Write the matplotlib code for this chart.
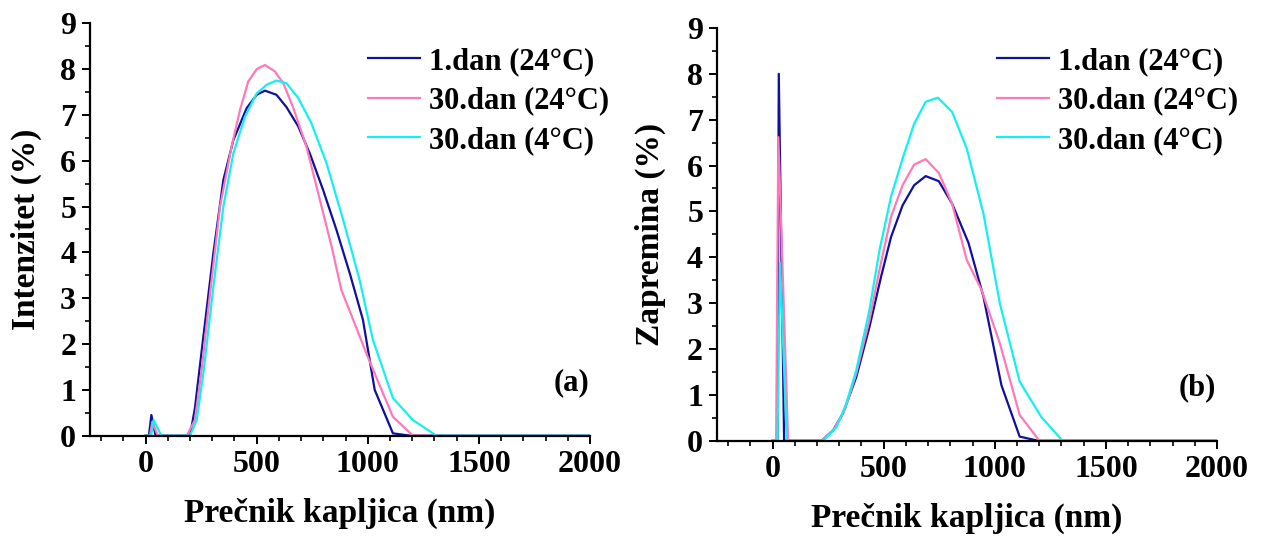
import numpy as np
from matplotlib import pyplot as plt
from matplotlib.ticker import MultipleLocator

plt.rcParams['font.family'] = ['Liberation Serif', 'DejaVu Serif']
plt.rcParams['font.weight'] = 'bold'

labels = ['1.dan (24°C)', '30.dan (24°C)', '30.dan (4°C)']
colors = ['#10109a', '#ff78b8', '#14f0f0']

# (a) intenzitet
int_x_1 = [0, 15, 26, 45, 200, 222, 260, 305, 350, 395, 455, 500, 537, 589, 634, 687, 739,
           799, 859, 919, 978, 1031, 1113, 1188, 2000]
int_y_1 = [0, 0, 0.45, 0, 0, 0.6, 2.16, 3.98, 5.58, 6.45, 7.15, 7.44, 7.53, 7.44, 7.17, 6.75,
           6.16, 5.36, 4.49, 3.54, 2.53, 1.0, 0.05, 0, 0]
int_x_2 = [0, 20, 30, 55, 185, 222, 252, 290, 335, 387, 425, 462, 500, 537, 582, 620, 665,
           724, 784, 837, 881, 934, 993, 1053, 1113, 1203, 2000]
int_y_2 = [0, 0, 0.3, 0, 0, 0.34, 1.43, 3.1, 5.0, 6.31, 7.11, 7.73, 8.0, 8.09, 7.95, 7.69,
           7.15, 6.31, 5.15, 4.13, 3.18, 2.53, 1.8, 1.1, 0.41, 0, 0]
int_x_3 = [0, 25, 36, 71, 200, 230, 260, 305, 350, 395, 447, 500, 545, 589, 634, 687, 746,
           814, 889, 963, 1023, 1113, 1203, 1308, 2000]
int_y_3 = [0, 0, 0.34, 0, 0, 0.34, 1.36, 3.25, 5.0, 6.16, 6.96, 7.47, 7.66, 7.75, 7.69, 7.37,
           6.82, 5.95, 4.71, 3.40, 2.09, 0.82, 0.34, 0, 0]

# (b) zapremina
vol_x_1 = [0, 22, 28, 52, 221, 273, 317, 377, 436, 488, 533, 585, 637, 689, 748, 808, 882,
           949, 1030, 1112, 1194, 2000]
vol_y_1 = [0, 0, 8.0, 0, 0, 0.23, 0.6, 1.39, 2.48, 3.57, 4.44, 5.13, 5.57, 5.77, 5.66, 5.17,
           4.31, 3.14, 1.21, 0.09, 0, 0]
vol_x_2 = [0, 16, 26, 70, 221, 273, 325, 377, 436, 481, 533, 585, 637, 689, 748, 808, 874,
           941, 1023, 1112, 1201, 2000]
vol_y_2 = [0, 0, 6.62, 0, 0, 0.23, 0.67, 1.47, 2.63, 3.72, 4.88, 5.57, 6.02, 6.14, 5.84,
           5.17, 3.94, 3.28, 2.12, 0.56, 0, 0]
vol_x_3 = [0, 22, 34, 64, 228, 288, 332, 377, 436, 481, 533, 585, 637, 689, 744, 808, 874,
           949, 1023, 1112, 1209, 1305, 2000]
vol_y_3 = [0, 0, 3.87, 0, 0, 0.30, 0.81, 1.54, 2.85, 4.15, 5.32, 6.15, 6.91, 7.39, 7.48,
           7.17, 6.37, 4.95, 2.99, 1.29, 0.52, 0, 0]

fig = plt.figure(figsize=(12.61, 5.37), dpi=100)
ax0 = fig.add_axes([0.0714, 0.1888, 0.3965, 0.7678])
ax1 = fig.add_axes([0.5686, 0.1793, 0.3965, 0.7686])

panels = [
    (ax0, [(int_x_1, int_y_1), (int_x_2, int_y_2), (int_x_3, int_y_3)], 'Intenzitet (%)', '(a)',
     0.483, 13),
    (ax1, [(vol_x_1, vol_y_1), (vol_x_2, vol_y_2), (vol_x_3, vol_y_3)], 'Zapremina (%)', '(b)',
     0.982, 15),
]

for ax, series, ylab, tag, legx, ypad in panels:
    for (x, y), c, lab in zip(series, colors, labels):
        ax.plot(x, y, color=c, lw=1.6, label=lab)
    ax.set_xlim(-250, 2000)
    ax.set_ylim(0, 9)
    ax.xaxis.set_major_locator(MultipleLocator(500))
    ax.xaxis.set_minor_locator(MultipleLocator(100))
    ax.yaxis.set_major_locator(MultipleLocator(1))
    ax.yaxis.set_minor_locator(MultipleLocator(0.5))
    ax.spines['top'].set_visible(False)
    ax.spines['right'].set_visible(False)
    ax.spines['left'].set_linewidth(1.6)
    ax.spines['bottom'].set_linewidth(1.6)
    ax.tick_params(which='major', direction='out', length=6, width=1.4, labelsize=23, pad=4)
    ax.tick_params(which='minor', direction='out', length=3.5, width=1.2)
    ax.set_xlabel('Prečnik kapljica (nm)', fontsize=24, fontweight='bold', labelpad=14)
    ax.set_ylabel(ylab, fontsize=24, fontweight='bold', labelpad=ypad)
    ax.text(0.998, 0.128, tag, transform=ax.transAxes, ha='right', va='center',
            fontsize=22, fontweight='bold')
    ax.legend(loc='upper right', bbox_to_anchor=(legx, 0.913), bbox_transform=fig.transFigure,
              frameon=False, fontsize=22, handlelength=1.7, handletextpad=0.3,
              labelspacing=0.35, borderpad=0, borderaxespad=0)

fig.savefig('out.png', dpi=100)
